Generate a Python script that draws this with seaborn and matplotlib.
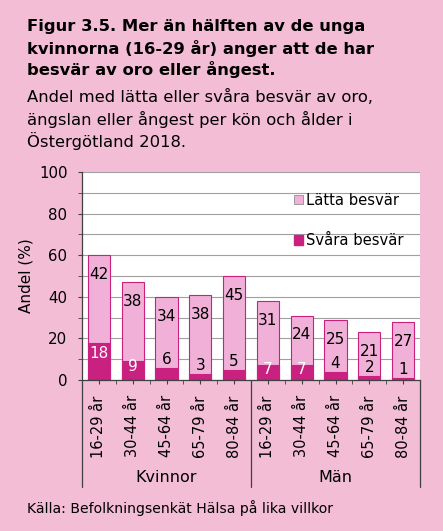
import pandas as pd
import matplotlib
matplotlib.use('Agg')
import matplotlib.pyplot as plt
import seaborn as sns
from matplotlib.ticker import MultipleLocator
from matplotlib.patches import Patch

# Data
ages = ['16-29 år', '30-44 år', '45-64 år', '65-79 år', '80-84 år'] * 2
groups = ['Kvinnor', 'Män']
svara = [18, 9, 6, 3, 5, 7, 7, 4, 2, 1]
latta = [42, 38, 34, 38, 45, 31, 24, 25, 21, 27]

bg = '#F3BDD5'
light = '#F0B0D8'
dark = '#C8217F'

df = pd.DataFrame({
    'key': [f'{i}' for i in range(len(ages))],
    'age': ages,
    'svara': svara,
    'latta': latta,
})
df['total'] = df['svara'] + df['latta']

sns.set_style('white')
plt.rcParams['font.family'] = ['DejaVu Sans']
plt.rcParams['text.color'] = 'black'
plt.rcParams['axes.labelcolor'] = 'black'
plt.rcParams['xtick.color'] = 'black'
plt.rcParams['ytick.color'] = 'black'

fig = plt.figure(figsize=(4.43, 5.31), dpi=100, facecolor=bg)
ax = fig.add_axes([82 / 443, 151 / 531, 338 / 443, 208 / 531])
ax.set_facecolor('white')

sns.barplot(data=df, x='key', y='total', color=light, width=0.66,
            edgecolor=dark, linewidth=0.8, saturation=1, ax=ax, zorder=3)
sns.barplot(data=df, x='key', y='svara', color=dark, width=0.66,
            edgecolor=dark, linewidth=0.8, saturation=1, ax=ax, zorder=4)

# value labels
for i, row in df.iterrows():
    ax.text(i, row['total'] - 9.3, str(row['latta']), ha='center', va='center',
            fontsize=11, color='black', zorder=5)
    if row['svara'] >= 7:
        ax.text(i, row['svara'] * 0.7, str(row['svara']), ha='center', va='center',
                fontsize=11, color='white', zorder=5)
    else:
        ax.text(i, row['svara'] + 4, str(row['svara']), ha='center', va='center',
                fontsize=11, color='black', zorder=5)

ax.set_ylim(0, 100)
ax.set_xlim(-0.5, len(ages) - 0.5)
ax.yaxis.set_major_locator(MultipleLocator(20))
ax.yaxis.set_minor_locator(MultipleLocator(10))
ax.grid(axis='y', which='both', color='#A0A0A0', linewidth=0.8, zorder=0)
ax.set_axisbelow(True)
for s in ['top', 'right']:
    ax.spines[s].set_visible(False)
for s in ['left', 'bottom']:
    ax.spines[s].set_color('#404040')
    ax.spines[s].set_linewidth(0.9)
    ax.spines[s].set_zorder(6)

ax.tick_params(axis='y', which='both', direction='out', length=3, color='#404040',
               labelsize=10.8, pad=7.5, left=True)
ax.tick_params(axis='x', which='major', direction='out', length=3, color='#404040',
               labelsize=10.5, pad=8, bottom=True)
ax.set_xticks(range(len(ages)))
ax.set_xticklabels(ages, rotation=90, va='top')
ax.set_xticks([i + 0.5 for i in range(len(ages) - 1)], minor=True)
ax.tick_params(axis='x', which='minor', direction='out', length=3, color='#404040', bottom=True)
ax.set_xlabel('')
ax.set_ylabel('Andel (%)', fontsize=11, labelpad=4)

# group separators and group labels
trans = ax.get_xaxis_transform()
for xs in [-0.5, 4.5, 9.5]:
    ax.plot([xs, xs], [0, -0.515], transform=trans, color='#404040', lw=0.9, clip_on=False)
for gi, g in enumerate(groups):
    ax.text(gi * 5 + 2, -0.468, g, transform=trans, ha='center', va='center', fontsize=11.5)

handles = [Patch(facecolor=light, edgecolor='#909090', linewidth=0.6),
           Patch(facecolor=dark, edgecolor=dark)]
ax.legend(handles, ['Lätta besvär', 'Svåra besvär'], loc='upper right',
          bbox_to_anchor=(0.99, 0.965), frameon=False, fontsize=10.6,
          handlelength=0.6, handleheight=0.6, handletextpad=0.2, labelspacing=1.75)

# titles
tkw = dict(va='center', color='black')
fig.text(27 / 443, 1 - 26 / 531, 'Figur 3.5. Mer än hälften av de unga', fontsize=11.8,
         fontweight='bold', **tkw)
fig.text(27 / 443, 1 - 48 / 531, 'kvinnorna (16-29 år) anger att de har', fontsize=11.8,
         fontweight='bold', **tkw)
fig.text(27 / 443, 1 - 70 / 531, 'besvär av oro eller ångest.', fontsize=11.8,
         fontweight='bold', **tkw)
fig.text(27 / 443, 1 - 97 / 531, 'Andel med lätta eller svåra besvär av oro,', fontsize=11.8,
         **tkw)
fig.text(27 / 443, 1 - 119 / 531, 'ängslan eller ångest per kön och ålder i', fontsize=11.8,
         **tkw)
fig.text(27 / 443, 1 - 141 / 531, 'Östergötland 2018.', fontsize=11.8, **tkw)
fig.text(27 / 443, 1 - 508 / 531, 'Källa: Befolkningsenkät Hälsa på lika villkor', fontsize=10.1,
         **tkw)

fig.savefig('out.png', dpi=100, facecolor=bg)
